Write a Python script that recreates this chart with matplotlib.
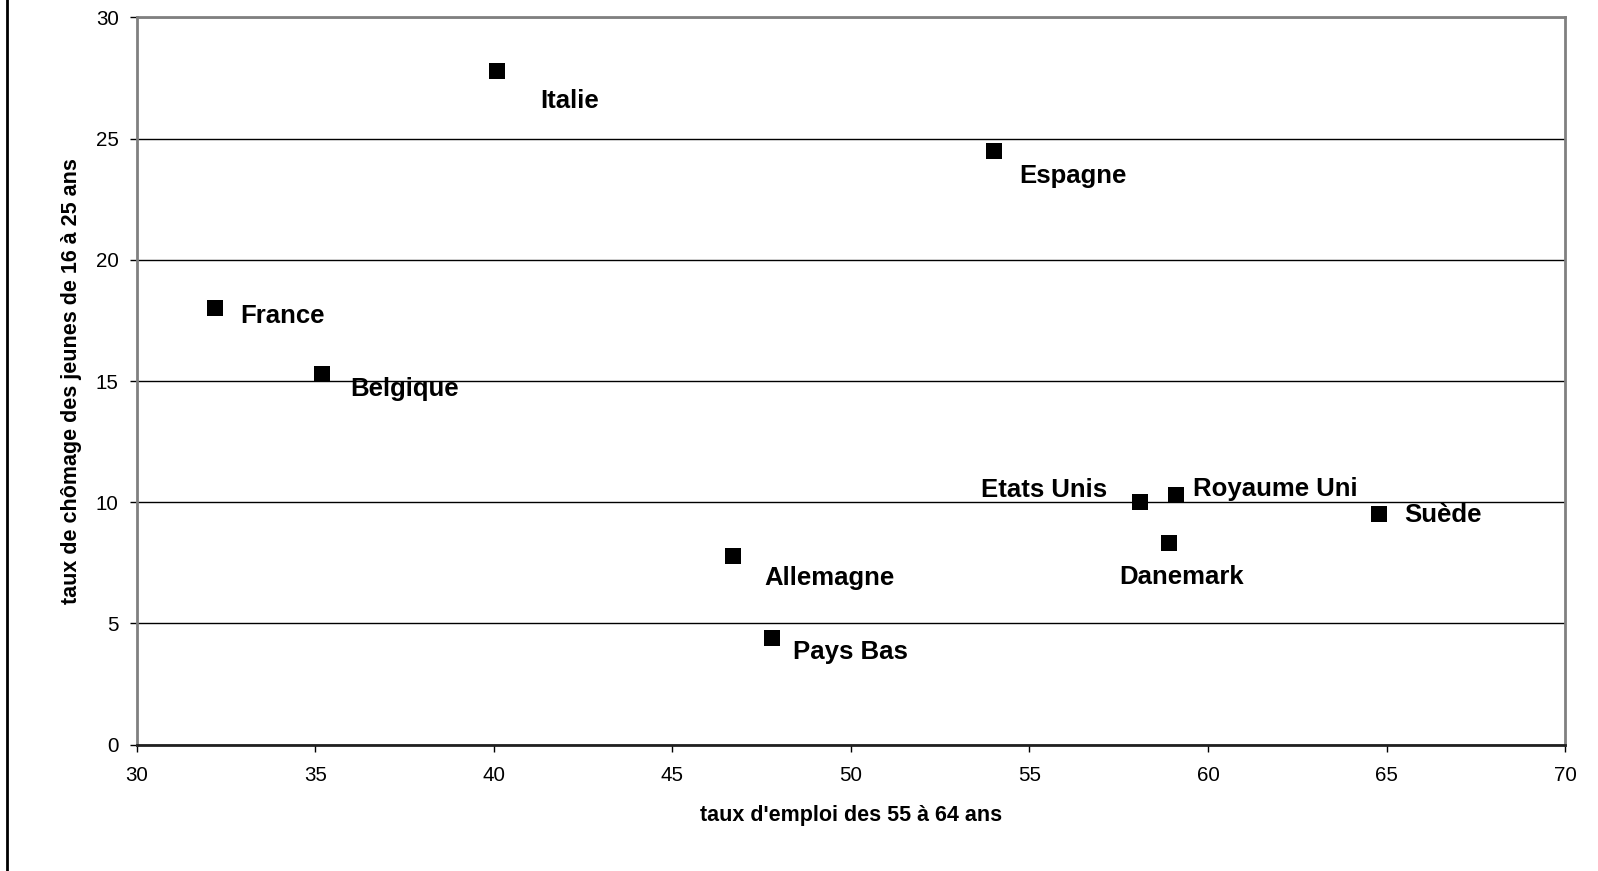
import numpy as np
import matplotlib
matplotlib.use("Agg")
import matplotlib.pyplot as plt
from matplotlib.lines import Line2D

plt.rcParams['font.family'] = ['Liberation Sans', 'DejaVu Sans']

pays    = ["France", "Belgique", "Italie", "Espagne", "Allemagne", "Pays Bas",
           "Etats Unis", "Royaume Uni", "Danemark", "Suède"]
emploi  = [32.2, 35.2, 40.1, 54.0, 46.7, 47.8, 58.1, 59.1, 58.9, 64.8]
chomage = [18.0, 15.3, 27.8, 24.5, 7.8, 4.4, 10.0, 10.3, 8.3, 9.5]

# label offsets in pixels (dx, dy) and horizontal alignment
offsets = {
    "France":      (25, -8, "left"),
    "Belgique":    (28, -15, "left"),
    "Italie":      (43, -30, "left"),
    "Espagne":     (26, -25, "left"),
    "Allemagne":   (31, -22, "left"),
    "Pays Bas":    (21, -14, "left"),
    "Etats Unis":  (-33, 12, "right"),
    "Royaume Uni": (17, 6, "left"),
    "Danemark":    (13, -34, "center"),
    "Suède":       (25, -1, "left"),
}

fig = plt.figure(figsize=(15.98, 8.71), dpi=100)
ax = fig.add_axes([0.0855, 0.145, 0.8939, 0.835])

ax.scatter(emploi, chomage, marker="s", s=11**2, color="black", zorder=3,
           linewidths=0)

for p, xv, yv in zip(pays, emploi, chomage):
    dx, dy, ha = offsets[p]
    ax.annotate(p, (xv, yv), xytext=(dx, dy), textcoords="offset pixels",
                ha=ha, va="center", fontsize=18.5, fontweight="bold", zorder=4)

ax.set_xlim(30, 70)
ax.set_ylim(0, 30)
ax.set_xticks(np.arange(30, 71, 5))
ax.set_yticks(np.arange(0, 31, 5))
ax.tick_params(axis="x", direction="out", length=5, width=1, pad=10,
               labelsize=14.8, color="black")
ax.tick_params(axis="y", direction="out", length=5, width=1, pad=8,
               labelsize=14.8, color="black")

ax.yaxis.grid(True, color="black", linewidth=1)
ax.set_axisbelow(True)

for side in ["top", "right", "left"]:
    ax.spines[side].set_color("#808080")
    ax.spines[side].set_linewidth(2)
ax.spines["bottom"].set_color("#202020")
ax.spines["bottom"].set_linewidth(2)

ax.set_xlabel("taux d'emploi des 55 à 64 ans", fontsize=15.5, fontweight="bold")
ax.set_ylabel("taux de chômage des jeunes de 16 à 25 ans", fontsize=15.5,
              fontweight="bold")
ax.xaxis.set_label_coords(0.5, -0.097)
ax.xaxis.label.set_va("center")
ax.yaxis.set_label_coords(-0.0453, 0.5)
ax.yaxis.label.set_va("center")

# left border of the chart area
fig.add_artist(Line2D([7 / 1598, 7 / 1598], [0, 1], color="black", linewidth=2,
                      transform=fig.transFigure))

fig.savefig("out.png", dpi=100)
